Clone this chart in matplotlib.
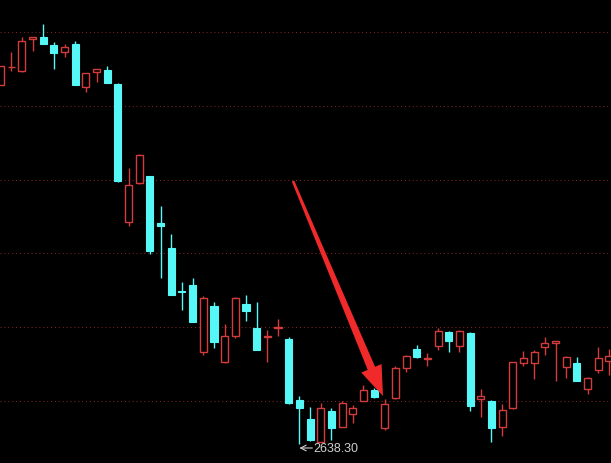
import matplotlib
matplotlib.use("Agg")
from matplotlib import pyplot as plt
from matplotlib.patches import Polygon
import numpy as np

# daily OHLC (index points)
opens = [2889.6, 2902.2, 2899.4, 2921.8, 2923.2, 2917.6, 2912.7, 2918.3, 2888.2, 2898.7,
         2900.1, 2890.3, 2793.7, 2821.0, 2825.9, 2793.0, 2775.5, 2745.4, 2749.6, 2702.7,
         2734.9, 2695.7, 2713.9, 2736.3, 2719.5, 2713.2, 2719.5, 2711.8, 2669.1, 2655.8,
         2639.7, 2661.4, 2650.2, 2659.3, 2668.4, 2676.1, 2649.5, 2670.5, 2691.5, 2704.8,
         2697.8, 2706.9, 2716.7, 2706.9, 2716.0, 2669.8, 2668.4, 2650.2, 2663.5, 2695.0,
         2695.0, 2706.2, 2709.0, 2692.2, 2695.0, 2676.8, 2690.1, 2696.4]
highs = [2902.9, 2912.7, 2923.2, 2923.2, 2932.3, 2919.7, 2918.3, 2920.4, 2898.0, 2900.8,
         2902.9, 2891.0, 2831.5, 2841.3, 2825.9, 2804.9, 2785.3, 2751.7, 2754.5, 2741.9,
         2737.7, 2722.3, 2741.2, 2742.6, 2737.7, 2718.1, 2725.8, 2713.2, 2671.9, 2664.2,
         2667.0, 2663.5, 2668.4, 2665.6, 2679.6, 2677.5, 2669.8, 2692.9, 2700.6, 2707.6,
         2702.0, 2719.5, 2717.4, 2718.1, 2716.7, 2676.8, 2669.1, 2666.3, 2695.7, 2703.4,
         2704.1, 2713.2, 2710.4, 2699.9, 2699.2, 2685.2, 2706.2, 2704.8]
lows = [2889.6, 2899.4, 2898.7, 2913.4, 2918.3, 2900.8, 2909.2, 2889.6, 2884.7, 2891.7,
        2891.0, 2821.7, 2790.9, 2820.3, 2771.3, 2754.5, 2742.6, 2732.1, 2723.7, 2700.6,
        2705.5, 2695.0, 2712.5, 2724.4, 2704.1, 2695.7, 2713.9, 2666.3, 2638.3, 2640.4,
        2639.7, 2641.1, 2650.2, 2653.0, 2668.4, 2670.5, 2648.1, 2669.8, 2688.7, 2698.5,
        2692.9, 2704.1, 2702.7, 2702.7, 2661.4, 2657.2, 2639.5, 2643.9, 2662.8, 2692.9,
        2683.8, 2700.6, 2682.4, 2684.5, 2682.4, 2673.3, 2688.0, 2686.6]
closes = [2902.9, 2902.4, 2920.4, 2923.2, 2918.3, 2912.0, 2916.2, 2889.6, 2898.0, 2900.8,
          2891.0, 2822.4, 2819.6, 2840.6, 2773.4, 2790.9, 2742.6, 2744.7, 2723.7, 2740.5,
          2709.7, 2713.9, 2740.5, 2731.4, 2704.1, 2713.9, 2720.2, 2667.0, 2663.5, 2641.1,
          2663.5, 2649.5, 2667.0, 2663.5, 2676.1, 2671.2, 2666.3, 2691.5, 2699.9, 2699.2,
          2698.5, 2717.4, 2710.4, 2717.4, 2664.9, 2671.9, 2649.5, 2662.1, 2695.7, 2698.5,
          2702.7, 2709.0, 2710.4, 2699.2, 2682.4, 2684.5, 2698.5, 2699.9]

grid_levels = [2926.7, 2874.9, 2823.3, 2772.0, 2720.2, 2668.4]

UP = "#d23c3c"
DOWN = "#55f7f7"
W = 0.66

fig = plt.figure(figsize=(6.11, 4.64), dpi=100, facecolor="black")
ax = fig.add_axes([0, 0, 1, 1])
ax.set_facecolor("black")
ax.set_xlim(-0.05, 57.2)
ax.set_ylim(2625.0, 2949.8)
ax.axis("off")

for g in grid_levels:
    ax.axhline(g, color="#8a2626", lw=0.7, ls=(0, (1, 3)), zorder=1)

for i, (o, h, l, c) in enumerate(zip(opens, highs, lows, closes)):
    top, bot = max(o, c), min(o, c)
    if c >= o:
        ax.vlines(i, top, h, color=UP, lw=1, zorder=2)
        ax.vlines(i, l, bot, color=UP, lw=1, zorder=2)
        ax.bar(i, max(top - bot, 0.3), bottom=bot, width=W, facecolor="black",
               edgecolor=UP, linewidth=1, zorder=3)
    else:
        ax.vlines(i, l, h, color=DOWN, lw=1, zorder=2)
        ax.bar(i, max(top - bot, 0.3), bottom=bot, width=W, facecolor=DOWN,
               edgecolor=DOWN, linewidth=0.8, zorder=3)

# lowest-low marker
imin = int(np.argmin(lows))
px = 1 / 10.67
ax.annotate("", xy=(imin, lows[imin] - 2.8), xytext=(imin + 13 * px, lows[imin] - 2.8),
            arrowprops=dict(arrowstyle="->", color="#d0d0d0", lw=0.8,
                            shrinkA=0, shrinkB=0), zorder=5)
ax.text(imin + 14 * px, lows[imin] - 2.8, f"{lows[imin]:.2f}", color="#d0d0d0",
        fontsize=9, family=["Liberation Sans", "DejaVu Sans"], va="center", ha="left")

# hand drawn red arrow (pixel positions of the screenshot)
tail = np.array([293.0, 182.0])
tip = np.array([383.0, 397.0])
d = (tip - tail) / np.linalg.norm(tip - tail)
n = np.array([d[1], -d[0]])
base = tip - 30 * d
pts = [tail + 1.3 * n, base + 4.0 * n, base + 11.0 * n, tip,
       base - 11.0 * n, base - 4.0 * n, tail - 1.3 * n]
pts = [(p[0] / 611, 1 - p[1] / 464) for p in pts]
ax.add_patch(Polygon(pts, closed=True, transform=ax.transAxes,
                     facecolor="#f02a2a", edgecolor="none", zorder=6))

fig.savefig("out.png", dpi=100, facecolor="black")
